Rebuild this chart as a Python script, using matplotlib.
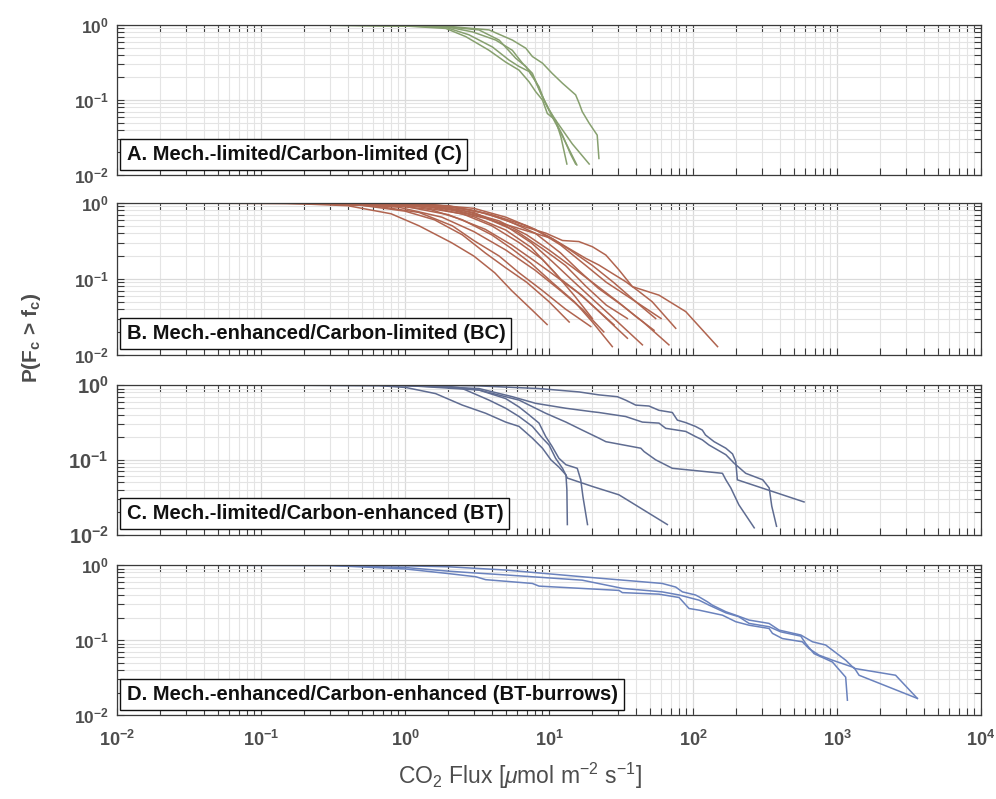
import numpy as np
import matplotlib
matplotlib.use('Agg')
import matplotlib.pyplot as plt
from matplotlib.ticker import FixedLocator, LogLocator, FuncFormatter, NullFormatter

plt.rcParams['font.family'] = ['Liberation Sans', 'DejaVu Sans']
plt.rcParams['mathtext.fontset'] = 'custom'
plt.rcParams['mathtext.rm'] = 'Liberation Sans'
plt.rcParams['mathtext.it'] = 'Liberation Sans:italic'
plt.rcParams['mathtext.bf'] = 'Liberation Sans:bold'

# exceedance curves P(Fc > fc) per site, flux in umol m-2 s-1
flux_a = [
    [0.14, 1.0, 2.0, 3.83, 5.56, 6.9, 7.66, 9.0, 10.5, 12.4, 15.3, 16.2, 17.0, 19.0, 21.6, 22.2],
    [0.14, 1.0, 1.92, 2.94, 4.26, 5.56, 6.53, 7.66, 9.0, 10.0, 11.1, 14.5, 19.0],
    [0.33, 1.0, 1.92, 2.78, 4.04, 5.28, 6.19, 7.26, 8.52, 9.23, 10.5, 12.1, 15.6],
    [0.2, 1.0, 1.92, 2.64, 3.83, 5.0, 6.19, 7.26, 8.08, 9.0, 9.73, 11.1, 12.1, 13.3],
    [0.3, 1.0, 1.92, 3.26, 4.5, 5.87, 6.89, 7.87, 8.75, 9.48, 10.8, 12.4, 14.1, 15.3],
]
prob_a = [
    [1.0, 0.985, 0.96, 0.86, 0.63, 0.49, 0.38, 0.31, 0.227, 0.167, 0.117, 0.090, 0.070, 0.049, 0.034, 0.0166],
    [1.0, 0.98, 0.95, 0.81, 0.63, 0.46, 0.31, 0.227, 0.111, 0.074, 0.054, 0.026, 0.014],
    [1.0, 0.975, 0.93, 0.74, 0.51, 0.34, 0.28, 0.24, 0.15, 0.10, 0.060, 0.036, 0.0136],
    [1.0, 0.97, 0.90, 0.70, 0.46, 0.32, 0.25, 0.175, 0.129, 0.10, 0.066, 0.054, 0.032, 0.014],
    [1.0, 0.98, 0.95, 0.86, 0.63, 0.36, 0.28, 0.195, 0.123, 0.090, 0.057, 0.034, 0.019, 0.014],
]

flux_b = [
    [0.01, 0.15, 0.4, 0.8, 1.25, 2.1, 3.0, 4.2, 5.5, 7.5, 9.7],
    [0.01, 0.2, 0.5, 1.0, 1.6, 2.5, 3.6, 5.0, 7.0, 10, 13.8],
    [0.01, 0.2, 0.6, 1.25, 2.13, 3.0, 4.5, 6.2, 9, 13, 19.5],
    [0.01, 0.3, 0.8, 1.5, 2.5, 4.0, 5.5, 7.5, 10.5, 15, 20, 27.5],
    [0.01, 0.3, 1.0, 2.0, 3.6, 5.5, 8, 11, 16, 22, 28.3],
    [0.01, 0.4, 1.2, 2.5, 4.0, 6.2, 9, 12, 17, 25, 35],
    [0.01, 0.5, 1.5, 3.0, 5.0, 7.5, 10.5, 15, 21, 30, 44.5],
    [0.01, 0.4, 1.25, 2.5, 4.5, 7, 10, 14, 20, 30, 40, 53.6],
    [0.01, 0.5, 1.5, 3.0, 5.0, 8.0, 12, 16, 22, 32, 45, 68],
    [0.01, 0.4, 1.25, 2.13, 3.63, 6.2, 10.5, 13.8, 18, 22.2, 27.5, 34, 42.2, 52, 75.8],
    [0.01, 0.3, 1.25, 2.13, 3.63, 6.2, 9.5, 12.4, 16.1, 20, 24.8, 30.6, 37.9, 58, 89, 148],
    [0.01, 0.3, 1.0, 2.0, 3.5, 6, 9, 13, 18, 25, 35],
    [0.01, 0.5, 1.5, 3, 5, 8, 12, 18, 25, 40, 60],
    [0.01, 0.6, 2, 4, 7, 10, 14, 20, 28, 40, 55],
    [0.01, 0.3, 0.9, 1.8, 3, 5, 8, 12, 17, 24],
    [0.01, 0.5, 1.5, 3, 5, 7.5, 11, 15, 20],
]
prob_b = [
    [1, 0.99, 0.92, 0.72, 0.5, 0.3, 0.2, 0.12, 0.07, 0.04, 0.025],
    [1, 0.99, 0.93, 0.78, 0.6, 0.38, 0.22, 0.14, 0.09, 0.05, 0.027],
    [1, 0.99, 0.92, 0.75, 0.5, 0.32, 0.2, 0.12, 0.07, 0.04, 0.0235],
    [1, 0.99, 0.93, 0.82, 0.6, 0.38, 0.25, 0.16, 0.09, 0.05, 0.027, 0.0128],
    [1, 0.99, 0.9, 0.7, 0.45, 0.28, 0.17, 0.11, 0.065, 0.038, 0.0247],
    [1, 0.99, 0.9, 0.72, 0.5, 0.3, 0.18, 0.1, 0.06, 0.03, 0.0165],
    [1, 0.99, 0.92, 0.75, 0.5, 0.3, 0.17, 0.09, 0.05, 0.027, 0.0135],
    [1, 0.99, 0.95, 0.8, 0.58, 0.38, 0.24, 0.15, 0.09, 0.05, 0.032, 0.021],
    [1, 0.99, 0.94, 0.8, 0.6, 0.4, 0.22, 0.13, 0.075, 0.045, 0.027, 0.0135],
    [1, 0.99, 0.94, 0.80, 0.625, 0.46, 0.34, 0.25, 0.186, 0.152, 0.118, 0.092, 0.068, 0.050, 0.0223],
    [1, 0.995, 0.985, 0.89, 0.73, 0.51, 0.40, 0.32, 0.31, 0.265, 0.206, 0.131, 0.079, 0.061, 0.037, 0.0128],
    [1, 0.99, 0.96, 0.85, 0.65, 0.42, 0.25, 0.15, 0.08, 0.045, 0.03],
    [1, 0.99, 0.95, 0.85, 0.65, 0.45, 0.28, 0.15, 0.09, 0.05, 0.03],
    [1, 0.99, 0.92, 0.7, 0.5, 0.36, 0.24, 0.15, 0.09, 0.05, 0.03],
    [1, 0.98, 0.88, 0.65, 0.42, 0.24, 0.13, 0.07, 0.04, 0.02],
    [1, 0.98, 0.88, 0.66, 0.44, 0.26, 0.12, 0.06, 0.03],
]

flux_c = [
    [0.094, 0.66, 1.01, 1.63, 2.5, 3.63, 5.0, 6.19, 7.66, 9.0, 10.3, 11.7, 13.1, 13.3, 13.4],
    [0.094, 0.66, 1.92, 3.26, 5.0, 6.19, 7.26, 8.52, 9.48, 10.5, 11.7, 13.1, 15.7, 16.6, 17.2, 18.5],
    [0.094, 0.66, 1.47, 2.5, 3.83, 5.0, 6.19, 7.66, 9.0, 10.0, 11.1, 12.4, 13.4, 20, 30.6, 66.3],
    [0.094, 1.0, 3.1, 8.5, 16.2, 22.2, 29.8, 34, 40, 49.4, 58, 71.8, 77.8, 88.9, 104, 116, 122, 140,
     169, 188, 198, 203, 590],
    [0.094, 1.0, 3.26, 5.56, 8.08, 13.1, 20, 22.2, 34, 44.5, 58, 64.6, 88.9, 104, 116, 129, 169, 193,
     232, 305, 338, 352, 380],
    [0.094, 1.0, 3.26, 6.19, 9.48, 13.1, 17, 22.2, 24.8, 43.4, 45.7, 55, 71.8, 160, 169, 183, 208, 266],
]
prob_c = [
    [1.0, 0.985, 0.93, 0.77, 0.54, 0.42, 0.32, 0.28, 0.195, 0.143, 0.10, 0.080, 0.063, 0.040, 0.0136],
    [1.0, 0.995, 0.97, 0.86, 0.66, 0.51, 0.40, 0.31, 0.205, 0.151, 0.105, 0.086, 0.077, 0.054, 0.032, 0.0136],
    [1.0, 0.995, 0.98, 0.90, 0.63, 0.49, 0.38, 0.28, 0.195, 0.158, 0.105, 0.077, 0.057, 0.044, 0.034, 0.0136],
    [1.0, 0.995, 0.98, 0.90, 0.81, 0.74, 0.70, 0.63, 0.54, 0.525, 0.46, 0.43, 0.34, 0.315, 0.28, 0.25,
     0.215, 0.175, 0.143, 0.12, 0.095, 0.054, 0.0273],
    [1.0, 0.99, 0.90, 0.70, 0.57, 0.49, 0.44, 0.43, 0.38, 0.32, 0.31, 0.264, 0.24, 0.205, 0.185, 0.158,
     0.117, 0.090, 0.066, 0.054, 0.042, 0.024, 0.0129],
    [1.0, 0.99, 0.86, 0.63, 0.42, 0.32, 0.25, 0.195, 0.175, 0.143, 0.129, 0.10, 0.077, 0.066, 0.054,
     0.042, 0.025, 0.0123],
]

flux_d = [
    [0.02, 0.3, 1.0, 2.02, 5.0, 17, 61, 75.8, 84.3, 104, 110, 126, 136, 169, 198, 245, 337, 396, 560,
     675, 834, 1148, 1313, 2550, 3610],
    [0.02, 0.3, 1.0, 2.02, 2.94, 5.0, 17, 32.3, 61, 80, 110, 129, 169, 208, 245, 337, 406, 560, 606,
     692, 929, 1148, 1180],
    [0.02, 0.3, 1.0, 2.02, 3.1, 3.63, 7.66, 8.52, 30.6, 32.3, 58, 80, 93.8, 110, 160, 198, 245, 337,
     356, 417, 574, 639, 750, 929, 1313, 1422, 3610],
]
prob_d = [
    [1.0, 0.995, 0.98, 0.95, 0.86, 0.70, 0.57, 0.51, 0.44, 0.40, 0.378, 0.324, 0.293, 0.239, 0.215,
     0.185, 0.167, 0.136, 0.117, 0.095, 0.086, 0.054, 0.042, 0.034, 0.0167],
    [1.0, 0.99, 0.93, 0.83, 0.79, 0.74, 0.63, 0.49, 0.44, 0.40, 0.341, 0.293, 0.231, 0.205, 0.167,
     0.151, 0.129, 0.113, 0.090, 0.066, 0.051, 0.032, 0.0158],
    [1.0, 0.99, 0.89, 0.77, 0.70, 0.64, 0.57, 0.525, 0.46, 0.43, 0.41, 0.37, 0.264, 0.251, 0.215,
     0.176, 0.158, 0.143, 0.123, 0.105, 0.095, 0.077, 0.063, 0.054, 0.043, 0.034, 0.0167],
]

panel_titles = ['A. Mech.-limited/Carbon-limited (C)',
                'B. Mech.-enhanced/Carbon-limited (BC)',
                'C. Mech.-limited/Carbon-enhanced (BT)',
                'D. Mech.-enhanced/Carbon-enhanced (BT-burrows)']
panel_colors = ['#87a06f', '#b0644f', '#5f6c91', '#6a82bd']
panel_flux = [flux_a, flux_b, flux_c, flux_d]
panel_prob = [prob_a, prob_b, prob_c, prob_d]

x_decades = [1e-2, 1e-1, 1e0, 1e1, 1e2, 1e3, 1e4]
y_decades = [1e-2, 1e-1, 1e0]

# axes rectangles in figure fractions (left, bottom, width, height)
panel_rects = [
    [0.1175, 0.781, 0.8675, 0.1877],
    [0.1175, 0.556, 0.8675, 0.1900],
    [0.1175, 0.331, 0.8675, 0.1870],
    [0.1175, 0.105, 0.8675, 0.1877],
]
label_sizes = [12.5, 12.5, 14.5, 12.5]

axis_col = '#3a3a3a'
text_col = '#4d4d4d'


def pow10(v, pos):
    e = int(round(np.log10(v)))
    return r'$\mathbf{10^{%d}}$' % e


fig = plt.figure(figsize=(9.96, 7.99), dpi=100)

for i in range(4):
    ax = fig.add_axes(panel_rects[i])
    for fx, pr in zip(panel_flux[i], panel_prob[i]):
        ax.plot(fx, pr, color=panel_colors[i], lw=1.1)
    ax.set_xscale('log')
    ax.set_yscale('log')
    ax.set_xlim(1e-2, 1e4)
    ax.set_ylim(1e-2, 1e0)

    ax.xaxis.set_major_locator(FixedLocator(x_decades))
    ax.xaxis.set_minor_locator(LogLocator(base=10, subs=np.arange(2, 10), numticks=20))
    ax.yaxis.set_major_locator(FixedLocator(y_decades))
    ax.yaxis.set_minor_locator(LogLocator(base=10, subs=np.arange(2, 10), numticks=20))
    ax.xaxis.set_minor_formatter(NullFormatter())
    ax.yaxis.set_minor_formatter(NullFormatter())
    ax.yaxis.set_major_formatter(FuncFormatter(pow10))
    if i == 3:
        ax.xaxis.set_major_formatter(FuncFormatter(pow10))
    else:
        ax.xaxis.set_major_formatter(NullFormatter())

    ax.grid(True, which='major', color='#dadada', lw=0.9)
    ax.grid(True, which='minor', color='#e4e4e4', lw=0.8)
    ax.set_axisbelow(True)
    ax.tick_params(which='both', direction='in', top=True, right=True,
                   length=5, width=0.8, color=axis_col)
    ax.tick_params(axis='y', labelsize=label_sizes[i], labelcolor=text_col, pad=6)
    ax.tick_params(axis='x', labelsize=13, labelcolor=text_col, pad=11)
    for s in ax.spines.values():
        s.set_color(axis_col)
        s.set_linewidth(0.9)

    ax.text(0.011, 0.075, panel_titles[i], transform=ax.transAxes,
            fontsize=14.5, fontweight='bold', color='#111111', va='bottom', ha='left',
            bbox=dict(boxstyle='square,pad=0.3', fc='white', ec='#111111', lw=1.0),
            zorder=5)

fig.text(520 / 996, 1 - 776 / 799, r'CO$_2$ Flux [$\mu$mol m$^{-2}$ s$^{-1}$]',
         fontsize=16.5, color=text_col, ha='center', va='center')

fig.text(0.032, 1 - 338 / 799, r'P(F$_\mathbf{c}$ > f$_\mathbf{c}$)', rotation=90,
         fontsize=15, fontweight='bold', color=text_col, ha='center', va='center')

fig.savefig('out.png', dpi=100)
